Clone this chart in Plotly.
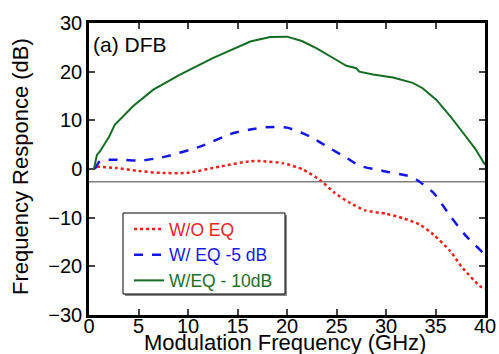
import plotly.graph_objects as go

# ---- data ----
freq_green = [0.5, 0.8, 1.1, 2.0, 2.6, 4.5, 6.5, 9.2, 12.5, 16.3, 18.3, 20.0, 21.5, 23.0, 25.0, 26.0, 27.0, 27.3, 28.7, 30.7, 32.7, 33.7, 35.1, 36.5, 37.8, 39.0, 40.0]
resp_green = [0.0, 2.9, 3.6, 6.5, 9.1, 13.0, 16.3, 19.4, 22.8, 26.2, 27.1, 27.2, 26.3, 24.8, 22.4, 21.2, 20.7, 20.0, 19.4, 18.8, 17.7, 16.6, 14.2, 10.8, 7.4, 4.2, 0.9]

freq_blue = [0.6, 1.1, 2.1, 3.5, 5.2, 7.8, 11.2, 14.6, 16.3, 17.9, 20.0, 22.3, 24.3, 26.0, 27.3, 29.7, 32.4, 33.1, 34.8, 36.5, 38.1, 39.8, 40.0]
resp_blue = [0.0, 1.6, 1.9, 1.9, 1.7, 2.6, 4.6, 7.4, 8.1, 8.6, 8.5, 6.7, 4.3, 2.3, 0.7, -0.4, -1.5, -2.2, -4.9, -9.7, -13.8, -17.2, -17.6]

freq_red = [0.8, 2.8, 5.0, 7.2, 9.9, 13.2, 16.3, 17.6, 19.6, 21.6, 23.3, 24.8, 26.4, 27.9, 30.0, 31.7, 33.4, 34.8, 36.5, 37.6, 39.5, 40.0]
resp_red = [0.5, 0.2, -0.4, -0.8, -0.8, 0.5, 1.6, 1.6, 1.2, -0.1, -2.2, -4.9, -7.0, -8.5, -9.2, -10.1, -11.4, -13.5, -16.9, -20.0, -24.1, -24.6]

ref_level = -2.6
x_ticks = [0, 5, 10, 15, 20, 25, 30, 35, 40]
y_ticks = [-30, -20, -10, 0, 10, 20, 30]

names = ['<span style="color:#e8251f">W/O EQ</span>',
         '<span style="color:#1a1ae0">W/ EQ -5 dB</span>',
         '<span style="color:#1e6e2a">W/EQ - 10dB</span>']
x_title = "Modulation Frequency (GHz)"
y_title = "Frequency Responce (dB)"
panel_label = "(a) DFB"

FONT = "Liberation Sans, Arial, sans-serif"
W, H = 499, 354
L, R, T, B = 89, 14, 23, 39
PW, PH = W - L - R, H - T - B


def px_x(p):
    return (p - L) / PW


def px_y(p):
    return (H - B - p) / PH


fig = go.Figure()
fig.add_trace(go.Scatter(x=freq_red, y=resp_red, mode="lines", name=names[0],
                         line=dict(color="#f0201a", width=2.5, dash="dot", shape="spline", smoothing=0.6)))
fig.add_trace(go.Scatter(x=freq_blue, y=resp_blue, mode="lines", name=names[1],
                         line=dict(color="#1515e6", width=2.5, dash="dash", shape="spline", smoothing=0.6)))
fig.add_trace(go.Scatter(x=freq_green, y=resp_green, mode="lines", name=names[2],
                         line=dict(color="#146c23", width=2)))

fig.add_shape(type="line", xref="x", yref="y", x0=0, x1=40, y0=ref_level, y1=ref_level,
              line=dict(color="#808080", width=1.5), layer="below")

# legend frame with grey shadow
fig.add_shape(type="rect", xref="paper", yref="paper",
              x0=px_x(125), x1=px_x(287), y0=px_y(296), y1=px_y(215),
              line=dict(width=0), fillcolor="#8a8a8a", layer="below")
fig.add_shape(type="rect", xref="paper", yref="paper",
              x0=px_x(123), x1=px_x(285), y0=px_y(294), y1=px_y(213),
              line=dict(width=1, color="black"), fillcolor="white", layer="below")

fig.add_annotation(text=panel_label, xref="paper", yref="paper", x=px_x(91), y=px_y(31),
                   xanchor="left", yanchor="top", showarrow=False,
                   font=dict(family=FONT, size=21, color="black"))

# axis titles
fig.add_annotation(text=x_title, xref="paper", yref="paper", x=px_x(285), y=px_y(328),
                   xanchor="center", yanchor="top", showarrow=False,
                   font=dict(family=FONT, size=22, color="black"))
fig.add_annotation(text=y_title, xref="paper", yref="paper", x=px_x(20), y=px_y(167),
                   xanchor="center", yanchor="middle", showarrow=False, textangle=-90,
                   font=dict(family=FONT, size=22, color="black"))

fig.update_layout(
    width=W, height=H,
    margin=dict(l=L, r=R, t=T, b=B),
    paper_bgcolor="white", plot_bgcolor="white",
    font=dict(family=FONT, size=20, color="black"),
    showlegend=True,
    legend=dict(x=px_x(129), y=px_y(211), xanchor="left", yanchor="top",
                bgcolor="rgba(0,0,0,0)", borderwidth=0,
                font=dict(family=FONT, size=17.5), tracegroupgap=0, itemwidth=30),
    xaxis=dict(range=[0, 40], tickvals=x_ticks, ticks="inside", ticklen=6, tickwidth=2,
               showline=True, linecolor="black", linewidth=2.5, mirror="ticks",
               showgrid=False, zeroline=False, automargin=False,
               ticklabelstandoff=-9, tickfont=dict(size=20)),
    yaxis=dict(range=[-30, 30], tickvals=y_ticks, ticks="inside", ticklen=6, tickwidth=2,
               showline=True, linecolor="black", linewidth=2.5, mirror="ticks",
               showgrid=False, zeroline=False, automargin=False,
               tickfont=dict(size=20)),
)

fig.write_html("out.html", config={"displayModeBar": False},
               post_script="document.body.style.margin='0';")
